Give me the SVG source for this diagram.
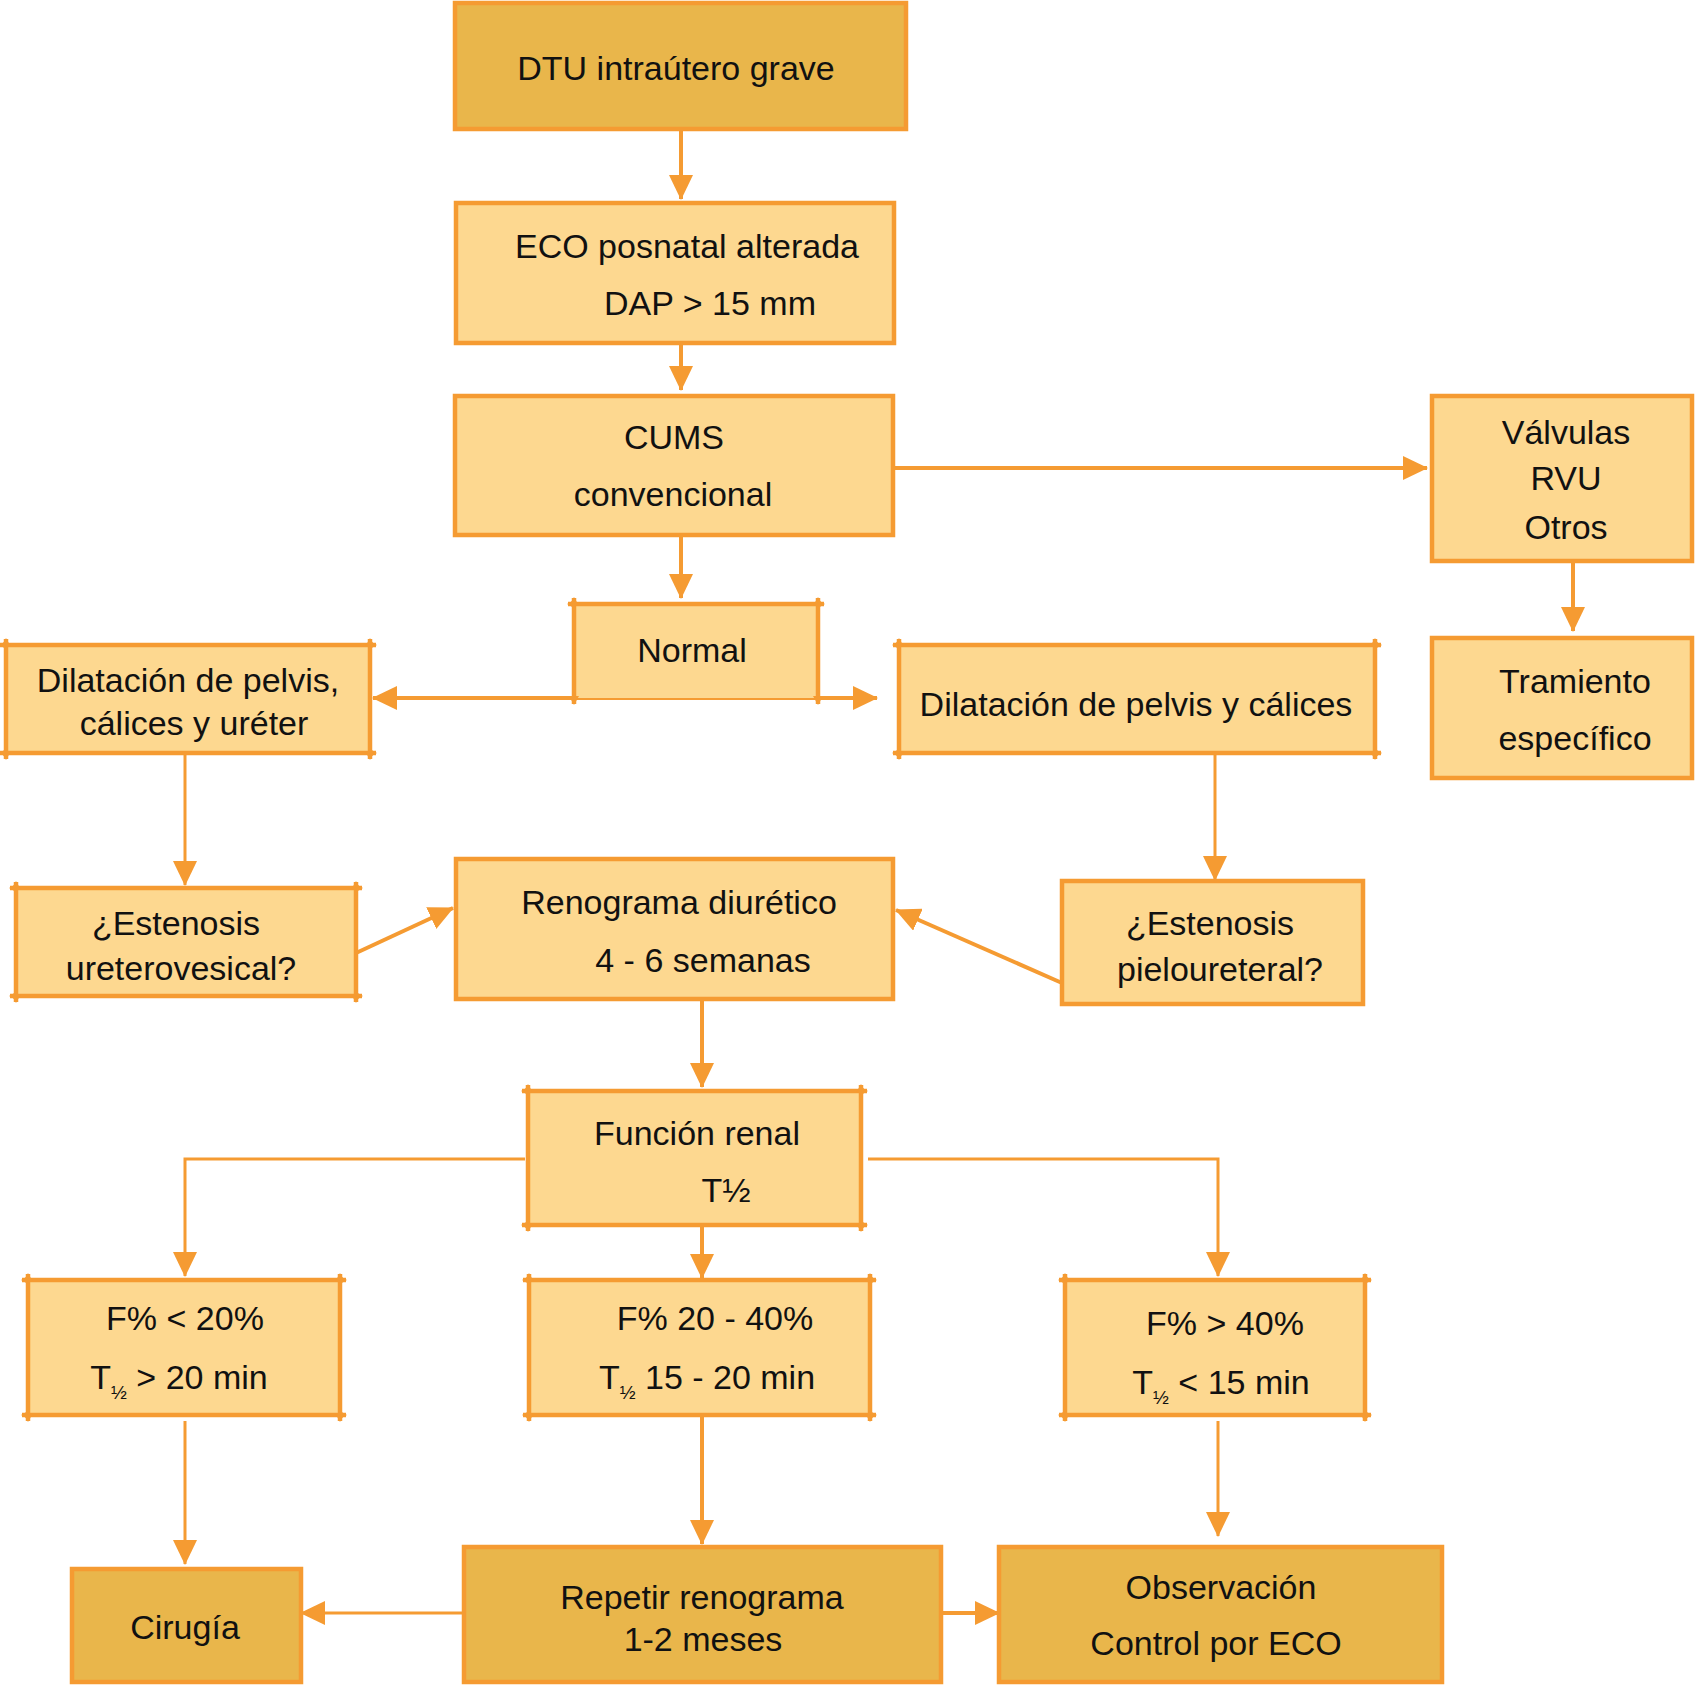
<svg xmlns="http://www.w3.org/2000/svg" width="1695" height="1685" viewBox="0 0 1695 1685">
<defs>
<marker id="ah" markerUnits="userSpaceOnUse" markerWidth="26" markerHeight="24" refX="24" refY="12" orient="auto-start-reverse"><path d="M0,0 L25,12 L0,24 z" fill="#F59B32"/></marker>
<marker id="tk" markerUnits="userSpaceOnUse" markerWidth="10" markerHeight="10" refX="8" refY="5" orient="auto-start-reverse"><path d="M0,0 L9,5 L0,10 z" fill="#F59B32"/></marker>
<style>
.box{stroke:#F59B32;stroke-width:4.5}
.lt{fill:#FDD890}
.dk{fill:#E9B64B}
.edge{stroke:#F59B32;stroke-width:4.5;marker-start:url(#tk);marker-end:url(#tk)}
.tb{fill:#FDD890;stroke:none}
.c{fill:none;stroke:#F59B32;stroke-width:4;marker-end:url(#ah)}
.c2{fill:none;stroke:#F59B32;stroke-width:3;marker-end:url(#ah)}
text{font-family:"Liberation Sans",Arial,sans-serif;font-size:34px;fill:#111;text-anchor:middle}
.sub{font-size:19px}
</style>
</defs>
<g id="connectors">
<path class="c" d="M681,129 V199"/>
<path class="c" d="M681,344 V390"/>
<path class="c" d="M681,536 V598"/>
<path class="c" d="M893,468 H1427"/>
<path class="c" d="M1573,561 V631"/>
<path class="c" d="M373,698 H877" style="marker-start:url(#ah)"/>
<path class="c2" d="M185,753 V885"/>
<path class="c2" d="M1215,753 V880"/>
<path class="c" d="M356,953 L453,908"/>
<path class="c" d="M1062,983 L896,910"/>
<path class="c" d="M702,999 V1087"/>
<path class="c2" d="M525,1159 H185 V1276"/>
<path class="c" d="M702,1226 V1278"/>
<path class="c2" d="M868,1159 H1218 V1276"/>
<path class="c2" d="M185,1421 V1564"/>
<path class="c" d="M702,1415 V1544"/>
<path class="c2" d="M1218,1421 V1536"/>
<path class="c2" d="M464,1613 H301"/>
<path class="c" d="M941,1613 H999"/>
</g>
<g id="n-dtu"><rect class="box dk" x="455" y="3" width="451" height="126"/><text x="676" y="80">DTU intraútero grave</text></g>
<g id="n-eco"><rect class="box lt" x="456" y="203" width="438" height="140"/><text x="687" y="258">ECO posnatal alterada</text><text x="710" y="315">DAP &gt; 15 mm</text></g>
<g id="n-cums"><rect class="box lt" x="455" y="396" width="438" height="139"/><text x="674" y="449">CUMS</text><text x="673" y="506">convencional</text></g>
<g id="n-valvulas"><rect class="box lt" x="1432" y="396" width="260" height="165"/><text x="1566" y="444">Válvulas</text><text x="1566" y="490">RVU</text><text x="1566" y="539">Otros</text></g>
<g id="n-tratamiento"><rect class="box lt" x="1432" y="638" width="260" height="140"/><text x="1575" y="693">Tramiento</text><text x="1575" y="750">específico</text></g>
<g id="n-normal"><rect class="tb" x="574" y="604" width="244" height="94"/>
<line class="edge" x1="568" y1="604" x2="824" y2="604"/><line class="edge" x1="574" y1="598" x2="574" y2="704"/><line class="edge" x1="818" y1="598" x2="818" y2="704"/>
<text x="692" y="662">Normal</text></g>
<g id="n-dil-l"><rect class="tb" x="6" y="645" width="364" height="108"/>
<line class="edge" x1="0" y1="645" x2="376" y2="645"/><line class="edge" x1="0" y1="753" x2="376" y2="753"/><line class="edge" x1="6" y1="639" x2="6" y2="759"/><line class="edge" x1="370" y1="639" x2="370" y2="759"/>
<text x="188" y="692">Dilatación de pelvis,</text><text x="194" y="735">cálices y uréter</text></g>
<g id="n-dil-r"><rect class="tb" x="899" y="645" width="476" height="108"/>
<line class="edge" x1="893" y1="645" x2="1381" y2="645"/><line class="edge" x1="893" y1="753" x2="1381" y2="753"/><line class="edge" x1="899" y1="639" x2="899" y2="759"/><line class="edge" x1="1375" y1="639" x2="1375" y2="759"/>
<text x="1136" y="716">Dilatación de pelvis y cálices</text></g>
<g id="n-est-uv"><rect class="tb" x="16" y="888" width="340" height="108"/>
<line class="edge" x1="10" y1="888" x2="362" y2="888"/><line class="edge" x1="10" y1="996" x2="362" y2="996"/><line class="edge" x1="16" y1="882" x2="16" y2="1002"/><line class="edge" x1="356" y1="882" x2="356" y2="1002"/>
<text x="176" y="935">¿Estenosis</text><text x="181" y="980">ureterovesical?</text></g>
<g id="n-renograma"><rect class="box lt" x="456" y="859" width="437" height="140"/><text x="679" y="914">Renograma diurético</text><text x="703" y="972">4 - 6 semanas</text></g>
<g id="n-est-pu"><rect class="box lt" x="1062" y="881" width="301" height="123"/><text x="1210" y="935">¿Estenosis</text><text x="1220" y="981">pieloureteral?</text></g>
<g id="n-funcion"><rect class="tb" x="528" y="1091" width="333" height="134"/>
<line class="edge" x1="522" y1="1091" x2="867" y2="1091"/><line class="edge" x1="522" y1="1225" x2="867" y2="1225"/><line class="edge" x1="528" y1="1085" x2="528" y2="1231"/><line class="edge" x1="861" y1="1085" x2="861" y2="1231"/>
<text x="697" y="1145">Función renal</text><text x="726" y="1202">T½</text></g>
<g id="n-f20"><rect class="tb" x="28" y="1280" width="312" height="135"/>
<line class="edge" x1="22" y1="1280" x2="346" y2="1280"/><line class="edge" x1="22" y1="1415" x2="346" y2="1415"/><line class="edge" x1="28" y1="1274" x2="28" y2="1421"/><line class="edge" x1="340" y1="1274" x2="340" y2="1421"/>
<text x="185" y="1330">F% &lt; 20%</text><text x="179" y="1389">T<tspan class="sub" dy="10">½</tspan><tspan dy="-10"> &gt; 20 min</tspan></text></g>
<g id="n-f2040"><rect class="tb" x="529" y="1280" width="341" height="135"/>
<line class="edge" x1="523" y1="1280" x2="876" y2="1280"/><line class="edge" x1="523" y1="1415" x2="876" y2="1415"/><line class="edge" x1="529" y1="1274" x2="529" y2="1421"/><line class="edge" x1="870" y1="1274" x2="870" y2="1421"/>
<text x="715" y="1330">F% 20 - 40%</text><text x="707" y="1389">T<tspan class="sub" dy="10">½</tspan><tspan dy="-10"> 15 - 20 min</tspan></text></g>
<g id="n-f40"><rect class="tb" x="1065" y="1280" width="300" height="135"/>
<line class="edge" x1="1059" y1="1280" x2="1371" y2="1280"/><line class="edge" x1="1059" y1="1415" x2="1371" y2="1415"/><line class="edge" x1="1065" y1="1274" x2="1065" y2="1421"/><line class="edge" x1="1365" y1="1274" x2="1365" y2="1421"/>
<text x="1225" y="1335">F% &gt; 40%</text><text x="1221" y="1394">T<tspan class="sub" dy="10">½</tspan><tspan dy="-10"> &lt; 15 min</tspan></text></g>
<g id="n-cirugia"><rect class="box dk" x="72" y="1569" width="229" height="113"/><text x="185" y="1639">Cirugía</text></g>
<g id="n-repetir"><rect class="box dk" x="464" y="1547" width="477" height="135"/><text x="702" y="1609">Repetir renograma</text><text x="703" y="1651">1-2 meses</text></g>
<g id="n-observacion"><rect class="box dk" x="999" y="1547" width="443" height="135"/><text x="1221" y="1599">Observación</text><text x="1216" y="1655">Control por ECO</text></g>
</svg>
